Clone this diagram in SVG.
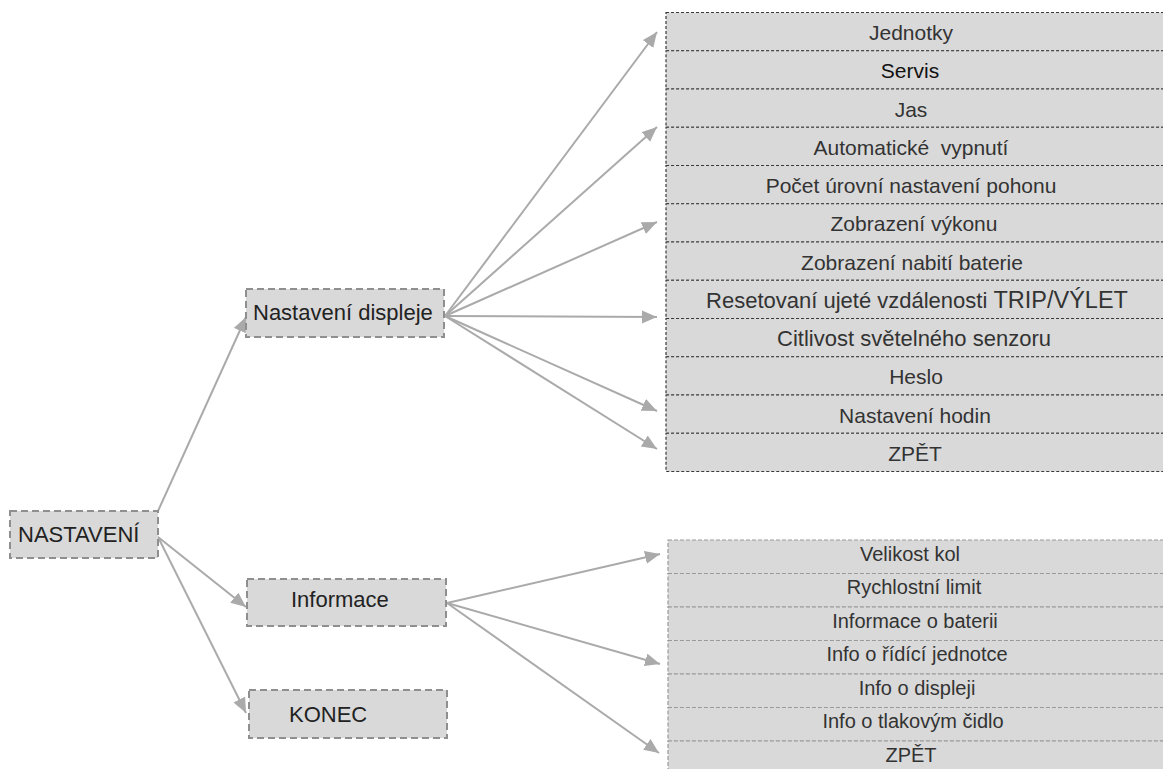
<svg xmlns="http://www.w3.org/2000/svg" width="1163" height="769" viewBox="0 0 1163 769">
<style>
.box{fill:#d9d9d9;stroke:#8f8f8f;stroke-width:2;stroke-dasharray:7 4}
.lbl{font-family:"Liberation Sans",Arial,sans-serif;font-size:22px;fill:#222}
.row1{fill:#d9d9d9;stroke:#3a3a3a;stroke-width:1.2;stroke-dasharray:3 2}
.row2{fill:#d9d9d9;stroke:#9a9a9a;stroke-width:1.2;stroke-dasharray:4 2}
.t{font-family:"Liberation Sans",Arial,sans-serif;font-size:21px;fill:#333;text-anchor:middle}
.t2{font-family:"Liberation Sans",Arial,sans-serif;font-size:20px;fill:#333;text-anchor:middle}
.conn line{stroke:#aaaaaa;stroke-width:2;marker-end:url(#arr)}
</style>
<defs>
<marker id="arr" markerUnits="userSpaceOnUse" markerWidth="16" markerHeight="14" refX="15" refY="6.5" orient="auto">
<path d="M0,0 L15,6.5 L0,13 z" fill="#aaaaaa"/>
</marker>
</defs>
<rect width="1163" height="769" fill="#ffffff"/>

<g id="connectors" class="conn">
<line x1="158" y1="511" x2="246" y2="317"/>
<line x1="158" y1="537" x2="246" y2="607"/>
<line x1="158" y1="537" x2="246" y2="713"/>
<line x1="445" y1="316" x2="657" y2="32"/>
<line x1="445" y1="316" x2="657" y2="127"/>
<line x1="445" y1="316" x2="657" y2="222"/>
<line x1="445" y1="316" x2="657" y2="317"/>
<line x1="445" y1="316" x2="657" y2="411"/>
<line x1="445" y1="316" x2="657" y2="449"/>
<line x1="447" y1="603" x2="660" y2="554"/>
<line x1="447" y1="603" x2="660" y2="664"/>
<line x1="447" y1="603" x2="659" y2="753"/>
</g>

<g id="nastaveni">
<rect class="box" x="10" y="511" width="148" height="47"/>
<text class="lbl" x="18" y="542">NASTAVENÍ</text>
</g>
<g id="nastaveni-displeje">
<rect class="box" x="246" y="289" width="198" height="48"/>
<text class="lbl" x="253" y="320">Nastavení displeje</text>
</g>
<g id="informace">
<rect class="box" x="247" y="579" width="199" height="47"/>
<text class="lbl" x="291" y="607">Informace</text>
</g>
<g id="konec">
<rect class="box" x="249" y="690" width="198" height="48"/>
<text class="lbl" x="289" y="722">KONEC</text>
</g>

<g id="displej-menu">
<g id="d-jednotky"><rect class="row1" x="666" y="12.5" width="510" height="38.25"/><text class="t" x="911" y="40">Jednotky</text></g>
<g id="d-servis"><rect class="row1" x="666" y="50.75" width="510" height="38.25"/><text class="t" x="910" y="78.25" style="fill:#111">Servis</text></g>
<g id="d-jas"><rect class="row1" x="666" y="89" width="510" height="38.25"/><text class="t" x="911" y="116.5">Jas</text></g>
<g id="d-auto"><rect class="row1" x="666" y="127.25" width="510" height="38.25"/><text class="t" x="911" y="154.75" xml:space="preserve">Automatické  vypnutí</text></g>
<g id="d-pocet"><rect class="row1" x="666" y="165.5" width="510" height="38.25"/><text class="t" x="911" y="193">Počet úrovní nastavení pohonu</text></g>
<g id="d-vykon"><rect class="row1" x="666" y="203.75" width="510" height="38.25"/><text class="t" x="914" y="231.25">Zobrazení výkonu</text></g>
<g id="d-baterie"><rect class="row1" x="666" y="242" width="510" height="38.25"/><text class="t" x="912" y="269.5">Zobrazení nabití baterie</text></g>
<g id="d-trip"><rect class="row1" x="666" y="280.25" width="510" height="38.25"/><text class="t" x="917" y="307.75" style="font-size:22px">Resetovaní ujeté vzdálenosti <tspan style="font-size:23.5px">TRIP/VÝLET</tspan></text></g>
<g id="d-citlivost"><rect class="row1" x="666" y="318.5" width="510" height="38.25"/><text class="t" x="914" y="346" style="font-size:22px">Citlivost světelného senzoru</text></g>
<g id="d-heslo"><rect class="row1" x="666" y="356.75" width="510" height="38.25"/><text class="t" x="916" y="384.25">Heslo</text></g>
<g id="d-hodiny"><rect class="row1" x="666" y="395" width="510" height="38.25"/><text class="t" x="915" y="422.5">Nastavení hodin</text></g>
<g id="d-zpet"><rect class="row1" x="666" y="433.25" width="510" height="38.25"/><text class="t" x="915" y="460.75">ZPĚT</text></g>
</g>

<g id="informace-menu">
<g id="i-kol"><rect class="row2" x="668" y="540" width="510" height="33.5"/><text class="t2" x="910" y="560.5">Velikost kol</text></g>
<g id="i-limit"><rect class="row2" x="668" y="573.5" width="510" height="33.5"/><text class="t2" x="914" y="594">Rychlostní limit</text></g>
<g id="i-baterie"><rect class="row2" x="668" y="607" width="510" height="33.5"/><text class="t2" x="915" y="627.5">Informace o baterii</text></g>
<g id="i-ridici"><rect class="row2" x="668" y="640.5" width="510" height="33.5"/><text class="t2" x="917" y="661">Info o řídící jednotce</text></g>
<g id="i-displej"><rect class="row2" x="668" y="674" width="510" height="33.5"/><text class="t2" x="917" y="694.5">Info o displeji</text></g>
<g id="i-cidlo"><rect class="row2" x="668" y="707.5" width="510" height="33.5"/><text class="t2" x="913" y="728">Info o tlakovým čidlo</text></g>
<g id="i-zpet"><rect class="row2" x="668" y="741" width="510" height="33.5"/><text class="t2" x="911" y="761.5">ZPĚT</text></g>
</g>
</svg>
